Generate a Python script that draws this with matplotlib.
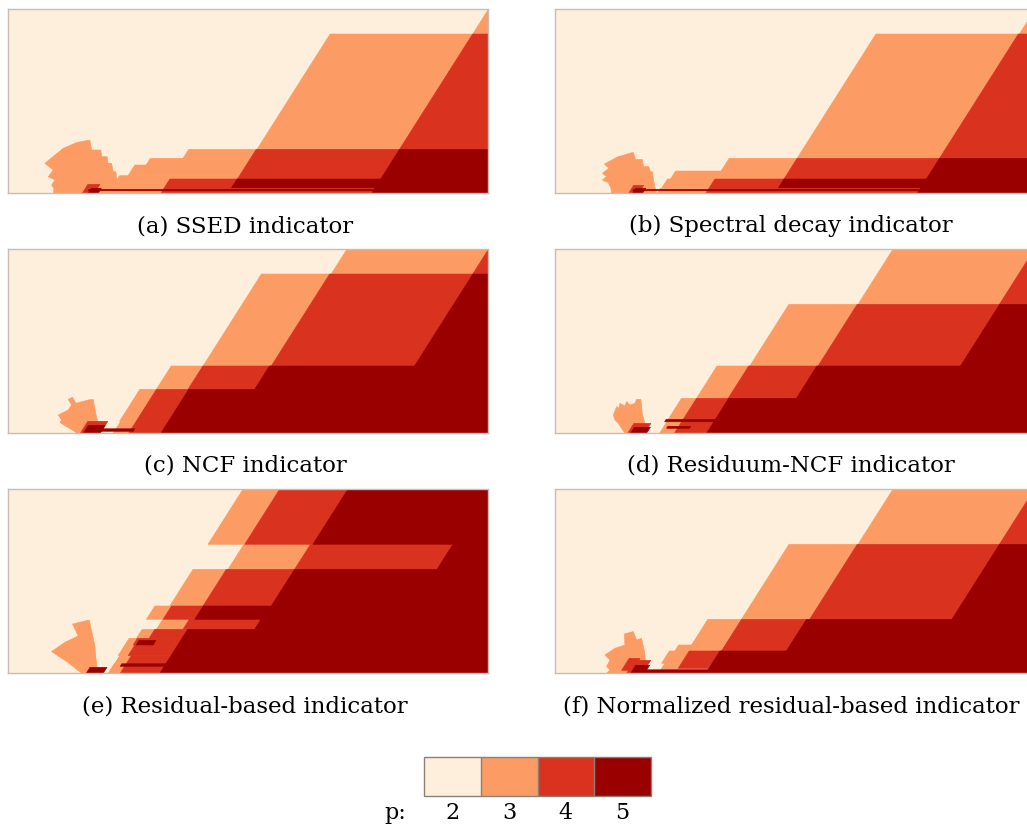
import matplotlib
matplotlib.use("Agg")
import matplotlib.pyplot as plt
from matplotlib.colors import ListedColormap, BoundaryNorm
from matplotlib.colorbar import ColorbarBase

plt.rcParams["font.family"] = ["DejaVu Serif"]

# polynomial degree colours p = 2, 3, 4, 5
degrees = [2, 3, 4, 5]
colors = ["#fdefdb", "#fc9b63", "#d9321f", "#9a0000"]

# domain size and slope (dx/dy) of the travelling fronts
domain_w = 480.0
domain_h = 184.0
shear = 0.635

# bands: (y_bottom, y_top, x_left at y_bottom, x_right at y_bottom or None = domain end)
# every band covers "p >= level"
ssed_p3 = [(44, 159.3, 249, None), (159.3, 184, 465, None), (35, 44, 175, None),
           (28.3, 35, 138, None), (17.7, 28.3, 120, None), (10.7, 17.7, 107, None),
           (0, 10.7, 102, None)]
ssed_p4 = [(44, 159.3, 391.7, None), (14.3, 44, 229.4, None), (0, 14.3, 152.7, None),
           (0, 9, 74, 86)]
ssed_p5 = [(0, 44, 363.8, None), (5.5, 14.3, 223.5, None), (2.5, 4, 80, 368),
           (0, 5, 80, 90)]
ssed_blob = [(45, 0), (45.7, 5), (43.3, 8.3), (46.7, 13.3), (40, 16.7), (45, 23.3),
             (36.7, 30), (55, 45), (68.3, 50.7), (81.7, 53.3), (83.4, 43.3), (92.7, 43.3),
             (93.4, 36.6), (99, 36.6), (100, 30), (103.4, 30), (105, 21.6), (107.7, 21.6),
             (109, 11), (109, 0)]

spec_p3 = [(35, 159.3, 242.7, None), (159.3, 184, 465.3, None), (22.3, 35, 166.6, None),
           (14.3, 22.3, 116, None), (5, 14.3, 107, None), (0, 5, 103, None)]
spec_p4 = [(35, 159.3, 385.3, None), (14.3, 35, 229.6, None), (0, 14.3, 151.3, None),
           (0, 8, 74, 84)]
spec_p5 = [(0, 35, 363.1, None), (5.5, 14.3, 224, None), (2.5, 4, 78, 366),
           (0, 5, 78, 88)]
spec_blob = [(57, 0), (56.3, 5), (53.7, 10.7), (47.7, 13.3), (52, 16.7), (47.7, 20),
             (54.3, 25), (49.7, 29.3), (63.7, 36.7), (78.7, 41), (81, 34), (87.7, 34),
             (89, 26.7), (94.3, 26.7), (95.7, 21.7), (97.7, 21.7), (99, 13.3),
             (100.3, 6.7), (102, 0)]

ncf_p3 = [(159.3, 184, 323.3, None), (67.3, 159.3, 195, None), (44, 67.3, 148.3, None),
          (12, 44, 111.4, None), (0, 12, 105, None)]
ncf_p4 = [(159.3, 184, 465, None), (67.3, 159.3, 263.3, None), (44, 67.3, 180, None),
          (0, 44, 120.4, None), (0, 12, 72, 92)]
ncf_p5 = [(67.3, 159.3, 406.7, None), (44, 67.3, 246.7, None), (0, 44, 152.7, None),
          (0, 8, 75, 92), (2, 4.5, 90, 125)]
ncf_blob = [(68.3, 0), (66.7, 1.7), (58.3, 6.7), (51.7, 10.7), (53.3, 13.3), (50, 18.3),
            (60, 23.3), (63.3, 28.3), (60, 34), (64.3, 36), (67.7, 30), (80, 33.3),
            (85, 34), (88.3, 16.7), (91, 6.7), (91.7, 0)]

rncf_p3 = [(129, 184, 303.7, None), (67.3, 129, 195.3, None), (35, 67.3, 142, None),
           (10, 35, 111.1, None), (0, 10, 105, None)]
rncf_p4 = [(129, 184, 445.3, None), (67.3, 129, 263.7, None), (35, 67.3, 173.7, None),
           (0, 35, 119.8, None), (0, 10, 73, 90)]
rncf_p5 = [(67.3, 129, 406.3, None), (35, 67.3, 242, None), (0, 35, 152, None),
           (11.5, 14, 110, 160), (5, 7, 112, 135), (0, 6, 76, 92)]
rncf_blob = [(70.3, 0), (67, 5), (63.7, 10), (60.3, 13.3), (58.7, 18.3), (62, 26.7),
             (64.3, 25), (65.3, 30), (70.3, 27.3), (72, 31.7), (75.3, 28.3), (80.3, 30),
             (82, 34), (86.3, 34), (87.7, 20), (90.3, 10), (92, 0)]

res_p3 = [(129, 184, 200, None), (104, 129, 220, None), (67.3, 104, 161.7, None),
          (54, 67.3, 138.3, None), (44, 54, 148.3, None), (35, 44, 128.3, None),
          (28.3, 35, 116.7, None), (17.7, 28.3, 110, None), (10, 17.7, 106.7, None),
          (0, 10, 100, None)]
res_p4 = [(129, 184, 236.7, None), (104, 129, 286.7, None), (67.3, 104, 195, None),
          (54, 67.3, 155, None), (44, 54, 175, None), (35, 44, 141, None),
          (28.3, 35, 125, None), (17.7, 28.3, 120, None), (0, 17.7, 112, None)]
res_p5 = [(129, 184, 305, None), (104, 129, 429.3, None), (67.3, 104, 263.3, None),
          (54, 67.3, 186.7, None), (44, 54, 246.7, None), (0, 44, 151.7, None),
          (28.3, 33, 128, 145), (7, 9.5, 112, 160), (0, 6, 78, 95)]
res_blob = [(43.3, 21.7), (56.7, 31), (70, 37.3), (64.3, 49.3), (81, 53.3), (86.7, 27.7),
            (88.3, 10), (90, 0), (73.3, 0), (60, 10.7)]

nres_p3 = [(129, 184, 303.7, None), (54, 129, 187, None), (28.3, 54, 137, None),
           (22.3, 28.3, 120.3, None), (10, 22.3, 107, None), (0, 10, 104, None)]
nres_p4 = [(129, 184, 445.3, None), (54, 129, 255.3, None), (22.3, 54, 167, None),
           (5, 22.3, 123.7, None), (0, 13, 72, 88), (3, 15, 67, 78)]
nres_p5 = [(54, 129, 397.7, None), (22.3, 54, 232, None), (0, 22.3, 151.3, None),
           (0, 3.5, 85, None), (0, 8, 76, 90)]
nres_blob = [(52, 0), (55.3, 3.3), (52, 6.7), (55.3, 13.3), (50.3, 18.3), (60.3, 25),
             (70.3, 28.3), (69.7, 39.3), (78.7, 41.7), (82, 33.3), (87, 35), (90.3, 20),
             (91, 6.7), (92, 0)]

captions = ["(a) SSED indicator", "(b) Spectral decay indicator", "(c) NCF indicator",
            "(d) Residuum-NCF indicator", "(e) Residual-based indicator",
            "(f) Normalized residual-based indicator"]

panels = [
    (ssed_blob, ssed_p3, ssed_p4, ssed_p5),
    (spec_blob, spec_p3, spec_p4, spec_p5),
    (ncf_blob, ncf_p3, ncf_p4, ncf_p5),
    (rncf_blob, rncf_p3, rncf_p4, rncf_p5),
    (res_blob, res_p3, res_p4, res_p5),
    (nres_blob, nres_p3, nres_p4, nres_p5),
]


def draw_band(ax, band, color):
    y0, y1, xl, xr = band
    if xr is None:
        xr = domain_w + 200
    dx = shear * (y1 - y0)
    ax.fill([xl, xr, xr + dx, xl + dx], [y0, y0, y1, y1], color=color, lw=0.4)


fig = plt.figure(figsize=(10.27, 8.25), dpi=100)

lefts = [0.00808, 0.5401]
bottoms = [0.7657, 0.4748, 0.1839]
cap_x = [0.2386, 0.7702]
cap_y = [0.726, 0.4352, 0.1442]

for i, (blob, p3, p4, p5) in enumerate(panels):
    row, col = divmod(i, 2)
    ax = fig.add_axes([lefts[col], bottoms[row], 0.4668, 0.2230])
    ax.set_facecolor(colors[0])
    bx = [pt[0] for pt in blob]
    by = [pt[1] for pt in blob]
    ax.fill(bx, by, color=colors[1], lw=0.4)
    for band in p3:
        draw_band(ax, band, colors[1])
    for band in p4:
        draw_band(ax, band, colors[2])
    for band in p5:
        draw_band(ax, band, colors[3])
    ax.set_xlim(0, domain_w)
    ax.set_ylim(0, domain_h)
    ax.set_xticks([])
    ax.set_yticks([])
    for sp in ax.spines.values():
        sp.set_color("#c9bdb3")
        sp.set_linewidth(1.0)
    fig.text(cap_x[col], cap_y[row], captions[i], ha="center", va="center", fontsize=16.5)

# colour bar
cax = fig.add_axes([0.4129, 0.0352, 0.2210, 0.0473])
cmap = ListedColormap(colors)
norm = BoundaryNorm([1.5, 2.5, 3.5, 4.5, 5.5], cmap.N)
cb = ColorbarBase(cax, cmap=cmap, norm=norm, orientation="horizontal",
                  ticks=degrees, drawedges=True)
cb.outline.set_edgecolor("#8a8078")
cb.outline.set_linewidth(1.0)
cb.dividers.set_color("#8a8078")
cb.dividers.set_linewidth(1.0)
cax.minorticks_off()
cax.tick_params(which="both", length=0, labelsize=16, pad=4)
fig.text(0.385, 0.0075, "p:", ha="center", va="baseline", fontsize=16)

fig.savefig("out.png", dpi=100)
